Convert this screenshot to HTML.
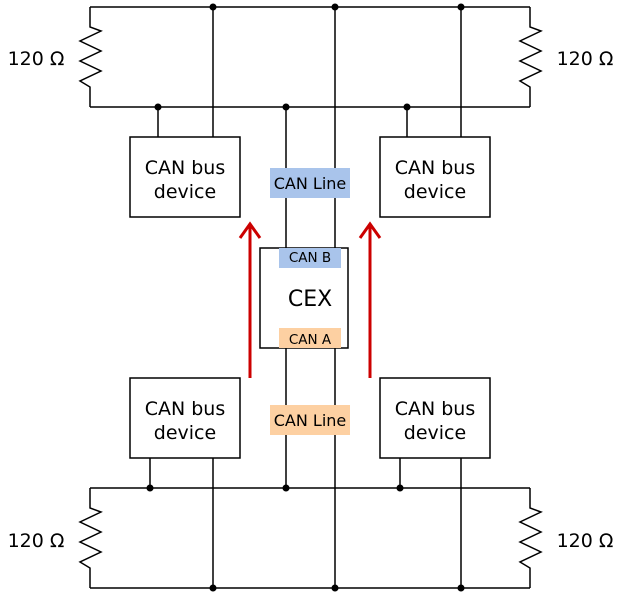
<!DOCTYPE html>
<html><head><style>body{margin:0;background:#fff}</style></head><body>
<svg width="620" height="598" xmlns="http://www.w3.org/2000/svg" font-family="DejaVu Sans, Liberation Sans, sans-serif">
<g stroke="#000" stroke-width="1.5" fill="none">
<line x1="90" y1="7" x2="530" y2="7"/>
<line x1="90" y1="107" x2="530" y2="107"/>
<polyline points="90,7 90,27 101,31 80,41 101,51 80,61 101,71 80,81 90,87 90,107"/>
<polyline points="530,7 530,27 541,31 520,41 541,51 520,61 541,71 520,81 530,87 530,107"/>
<line x1="158" y1="107" x2="158" y2="137"/>
<line x1="213" y1="7" x2="213" y2="137"/>
<line x1="407" y1="107" x2="407" y2="137"/>
<line x1="461" y1="7" x2="461" y2="137"/>
<line x1="286" y1="107" x2="286" y2="248"/>
<line x1="335" y1="7" x2="335" y2="248"/>
<line x1="90" y1="488" x2="530" y2="488"/>
<line x1="90" y1="588" x2="530" y2="588"/>
<polyline points="90,488 90,508 101,512 80,522 101,532 80,542 101,552 80,562 90,568 90,588"/>
<polyline points="530,488 530,508 541,512 520,522 541,532 520,542 541,552 520,562 530,568 530,588"/>
<line x1="150" y1="458" x2="150" y2="488"/>
<line x1="213" y1="458" x2="213" y2="588"/>
<line x1="400" y1="458" x2="400" y2="488"/>
<line x1="461" y1="458" x2="461" y2="588"/>
<line x1="286" y1="348" x2="286" y2="488"/>
<line x1="335" y1="348" x2="335" y2="588"/>
</g>
<g fill="#000">
<circle cx="213" cy="7" r="3.5"/><circle cx="335" cy="7" r="3.5"/><circle cx="461" cy="7" r="3.5"/>
<circle cx="158" cy="107" r="3.5"/><circle cx="286" cy="107" r="3.5"/><circle cx="407" cy="107" r="3.5"/>
<circle cx="150" cy="488" r="3.5"/><circle cx="286" cy="488" r="3.5"/><circle cx="400" cy="488" r="3.5"/>
<circle cx="213" cy="588" r="3.5"/><circle cx="335" cy="588" r="3.5"/><circle cx="461" cy="588" r="3.5"/>
</g>
<g fill="#fff" stroke="#000" stroke-width="1.5">
<rect x="130" y="137" width="110" height="80"/>
<rect x="380" y="137" width="110" height="80"/>
<rect x="130" y="378" width="110" height="80"/>
<rect x="380" y="378" width="110" height="80"/>
<rect x="260" y="248" width="88" height="100"/>
</g>
<rect x="270" y="168" width="80" height="30" fill="#a9c4eb"/>
<rect x="270" y="405" width="80" height="30" fill="#fdd0a2"/>
<rect x="279" y="248" width="62" height="20" fill="#a9c4eb"/>
<rect x="279" y="328" width="62" height="20" fill="#fdd0a2"/>
<g stroke="#c00" stroke-width="3" fill="none">
<line x1="250" y1="378" x2="250" y2="224"/><polyline points="240,238 250,224 260,238"/>
<line x1="370" y1="378" x2="370" y2="224"/><polyline points="360,238 370,224 380,238"/>
</g>
<g font-size="19" text-anchor="middle" fill="#000">
<text x="185" y="174">CAN bus</text><text x="185" y="198">device</text>
<text x="435" y="174">CAN bus</text><text x="435" y="198">device</text>
<text x="185" y="415">CAN bus</text><text x="185" y="439">device</text>
<text x="435" y="415">CAN bus</text><text x="435" y="439">device</text>
<text x="310" y="306" font-size="22">CEX</text>
<text x="36" y="65">120 Ω</text><text x="585" y="65">120 Ω</text>
<text x="36" y="547">120 Ω</text><text x="585" y="547">120 Ω</text>
<text x="310" y="189" font-size="16">CAN Line</text>
<text x="310" y="426" font-size="16">CAN Line</text>
<text x="310" y="262" font-size="13.5">CAN B</text>
<text x="310" y="344" font-size="13.5">CAN A</text>
</g>
</svg>
</body></html>
